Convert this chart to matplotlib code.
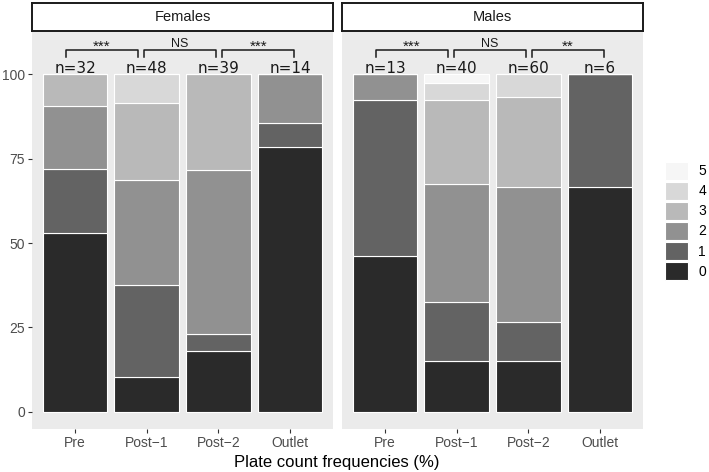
import matplotlib.pyplot as plt
from matplotlib.patches import Patch
import numpy as np

# Plate count frequencies, counts per site (columns = plate count 0..5)
sites = ['Pre', 'Post\u22121', 'Post\u22122', 'Outlet']
levels = ['0', '1', '2', '3', '4', '5']
fill_colors = ['#2a2a2a', '#636363', '#919191', '#b9b9b9', '#d8d8d8', '#f6f6f6']

females_counts = [
    [17, 6, 6, 3, 0, 0],
    [5, 13, 15, 11, 4, 0],
    [7, 2, 19, 11, 0, 0],
    [11, 1, 2, 0, 0, 0],
]
males_counts = [
    [6, 6, 1, 0, 0, 0],
    [6, 7, 14, 10, 2, 1],
    [9, 7, 24, 16, 4, 0],
    [4, 2, 0, 0, 0, 0],
]
females_sig = ['***', 'NS', '***']
males_sig = ['***', 'NS', '**']

panels = [('Females', females_counts, females_sig),
          ('Males', males_counts, males_sig)]

W, H = 709, 472
fig = plt.figure(figsize=(W / 100, H / 100), dpi=100)

panel_left = [32, 342]
panel_w = 301
panel_top, panel_bot = 31, 429
strip_top = 3

tick_font = 'Liberation Sans'

for p, (title, counts, sig) in enumerate(panels):
    ax = fig.add_axes([panel_left[p] / W, (H - panel_bot) / H,
                       panel_w / W, (panel_bot - panel_top) / H])
    ax.set_facecolor('#ebebeb')
    for s in ax.spines.values():
        s.set_visible(False)

    counts = np.array(counts, dtype=float)
    n = counts.sum(axis=1)
    pct = counts / n[:, None] * 100
    x = np.arange(1, len(sites) + 1)
    bottom = np.zeros(len(sites))
    for k in range(len(levels)):
        ax.bar(x, pct[:, k], bottom=bottom, width=0.9, color=fill_colors[k],
               edgecolor='white', linewidth=0.8)
        bottom += pct[:, k]

    for xi, ni in zip(x, n):
        ax.text(xi, 100.5, 'n=%d' % ni, ha='center', va='baseline',
                fontsize=11, family='DejaVu Sans', color='#1a1a1a')

    # significance brackets between neighbouring sites
    for j, lab in enumerate(sig):
        a, b = j + 1, j + 2
        x1 = a - 0.13 + 0.09 * (a - 1)
        x2 = b - 0.12 + 0.09 * (b - 2)
        ax.plot([x1, x1, x2, x2], [105.2, 107.4, 107.4, 105.2],
                color='#1a1a1a', linewidth=1.1, clip_on=False)
        if lab == 'NS':
            ax.text((x1 + x2) / 2, 108.2, lab, ha='center', va='baseline',
                    fontsize=9, family=tick_font, color='#1a1a1a')
        else:
            ax.text((x1 + x2) / 2, 106.9, lab, ha='center', va='baseline',
                    fontsize=11, family=tick_font, color='#1a1a1a')

    ax.set_xlim(0.4, 4.6)
    ax.set_ylim(-5.13, 112.9)
    ax.set_xticks(x)
    ax.set_xticklabels(sites, family=tick_font, fontsize=10, color='#4d4d4d')
    ax.set_yticks([0, 25, 50, 75, 100])
    if p == 0:
        ax.set_yticklabels(['0', '25', '50', '75', '100'], family=tick_font,
                           fontsize=10, color='#4d4d4d')
        ax.tick_params(axis='y', length=3, width=0.8, color='#333333', pad=2)
    else:
        ax.tick_params(axis='y', length=0, labelleft=False)
    ax.tick_params(axis='x', length=3, width=0.8, color='#333333', pad=2)

    # facet strip
    sax = fig.add_axes([panel_left[p] / W, (H - panel_top) / H,
                        panel_w / W, (panel_top - strip_top) / H])
    sax.set_facecolor('white')
    sax.set_xticks([])
    sax.set_yticks([])
    for s in sax.spines.values():
        s.set_color('#1a1a1a')
        s.set_linewidth(1.4)
    sax.text(0.5, 0.5, title, ha='center', va='center', fontsize=10.5,
             family=tick_font, color='#1a1a1a', transform=sax.transAxes)

fig.text((32 + 642) / 2 / W, 1 - 462 / H, 'Plate count frequencies (%)',
         ha='center', va='center', fontsize=12, family=tick_font, color='black')

handles = [Patch(facecolor=fill_colors[k], edgecolor='white', linewidth=0.8)
           for k in range(len(levels))][::-1]
fig.legend(handles, levels[::-1], loc='upper left',
           bbox_to_anchor=(665 / W, 1 - 162 / H), frameon=False,
           prop={'family': tick_font, 'size': 10},
           handlelength=1.65, handleheight=1.58, labelspacing=0.17,
           handletextpad=0.75, borderpad=0, borderaxespad=0)

fig.savefig('out.png', dpi=100)
